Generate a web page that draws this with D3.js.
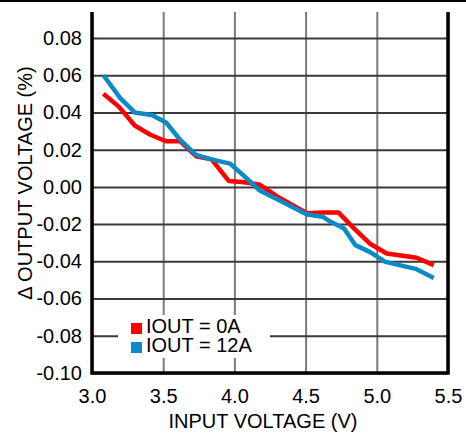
<!DOCTYPE html>
<html>
<head>
<meta charset="utf-8">
<script src="https://cdn.jsdelivr.net/npm/d3@7"></script>
<style>
  html, body { margin: 0; padding: 0; background: #fff; }
  text { font-family: "Liberation Sans", Arial, sans-serif; fill: #000; }
</style>
</head>
<body>
<div id="chart"></div>
<script>
var W = 466, H = 434;

// tick labels
var xTicks = [3.0, 3.5, 4.0, 4.5, 5.0, 5.5];
var yTicks = [-0.10, -0.08, -0.06, -0.04, -0.02, 0.00, 0.02, 0.04, 0.06, 0.08];

// series: input voltage (V) / delta output voltage (%)
var vin0 = [3.08, 3.19, 3.30, 3.41, 3.52, 3.62, 3.73, 3.84, 3.96, 4.07, 4.18, 4.30, 4.51, 4.62, 4.73, 4.84, 4.95, 5.07, 5.28, 5.40];
var dv0  = [0.050, 0.043, 0.033, 0.028, 0.0245, 0.0245, 0.0165, 0.0148, 0.0032, 0.0025, 0.0011, -0.0051, -0.0142, -0.0137, -0.0137, -0.0223, -0.0304, -0.0358, -0.0381, -0.0420];
var vin12 = [3.08, 3.20, 3.30, 3.42, 3.52, 3.62, 3.73, 3.84, 3.97, 4.07, 4.18, 4.30, 4.51, 4.62, 4.67, 4.77, 4.85, 4.95, 5.06, 5.28, 5.40];
var dv12  = [0.060, 0.0476, 0.0400, 0.0386, 0.0346, 0.0252, 0.0172, 0.0148, 0.0125, 0.0057, -0.0021, -0.0066, -0.0148, -0.0160, -0.0185, -0.0223, -0.0313, -0.0349, -0.0403, -0.0442, -0.0489];

var seriesNames = ["IOUT = 0A", "IOUT = 12A"];
var seriesColors = ["#ff0000", "#0a8ac6"];

// plot edges (note: "top" is reserved on window, so use plotTop)
var plotLeft = 92, plotRight = 448, plotTop = 12, plotBottom = 373;

var x = d3.scaleLinear().domain([3.0, 5.5]).range([plotLeft, plotRight]);
var y = d3.scaleLinear().domain([-0.10, 0.08]).range([plotBottom, 38]);

var svg = d3.select("#chart").append("svg").attr("width", W).attr("height", H);
svg.append("rect").attr("width", W).attr("height", H).attr("fill", "#fff");

// black rule along the top edge
svg.append("rect").attr("x", 0).attr("y", 0).attr("width", W).attr("height", 2).attr("fill", "#000");

// vertical grid
var xg = svg.append("g").attr("transform", "translate(0," + plotBottom + ")")
  .call(d3.axisBottom(x).tickValues(xTicks).tickSize(-(plotBottom - plotTop)).tickFormat(""));
xg.select(".domain").remove();
xg.selectAll("line").attr("stroke", "#7a7a7a").attr("stroke-width", 2);

// horizontal grid
var yg = svg.append("g").attr("transform", "translate(" + plotLeft + ",0)")
  .call(d3.axisLeft(y).tickValues(yTicks).tickSize(-(plotRight - plotLeft)).tickFormat(""));
yg.select(".domain").remove();
yg.selectAll("line").attr("stroke", "#3a3a3a").attr("stroke-width", 2);

// tick labels
var xl = svg.append("g").attr("transform", "translate(0," + plotBottom + ")")
  .call(d3.axisBottom(x).tickValues(xTicks).tickSize(0).tickPadding(16).tickFormat(function(d){ return d.toFixed(1); }));
xl.select(".domain").remove();
xl.selectAll("text").attr("font-size", 20).attr("font-family", "Liberation Sans, Arial, sans-serif");

var yl = svg.append("g").attr("transform", "translate(" + plotLeft + ",0)")
  .call(d3.axisLeft(y).tickValues(yTicks).tickSize(0).tickPadding(10).tickFormat(function(d){ return d.toFixed(2); }));
yl.select(".domain").remove();
yl.selectAll("text").attr("font-size", 20).attr("font-family", "Liberation Sans, Arial, sans-serif");

// frame: left, right, bottom
svg.append("path")
  .attr("d", "M" + plotLeft + "," + plotTop + "V" + plotBottom + "H" + plotRight + "V" + plotTop)
  .attr("fill", "none").attr("stroke", "#000").attr("stroke-width", 3.5);

// lines
var line = d3.line().x(function(d){ return x(d[0]); }).y(function(d){ return y(d[1]); });
var data0 = d3.zip(vin0, dv0);
var data12 = d3.zip(vin12, dv12);

svg.append("path").datum(data0).attr("d", line)
  .attr("fill", "none").attr("stroke", seriesColors[0]).attr("stroke-width", 4.5).attr("stroke-linejoin", "round");
svg.append("path").datum(data12).attr("d", line)
  .attr("fill", "none").attr("stroke", seriesColors[1]).attr("stroke-width", 4.5).attr("stroke-linejoin", "round");

// legend
svg.append("rect").attr("x", 118).attr("y", 315).attr("width", 152).attr("height", 43).attr("fill", "#fff");
var lg = svg.append("g");
seriesNames.forEach(function(name, i){
  lg.append("rect").attr("x", 131).attr("y", 323 + i * 19).attr("width", 11).attr("height", 11).attr("fill", seriesColors[i]);
  lg.append("text").attr("x", 146).attr("y", 333 + i * 19).attr("font-size", 20).text(name);
});

// axis titles
svg.append("text").attr("x", (plotLeft + plotRight) / 2 - 7).attr("y", 428)
  .attr("text-anchor", "middle").attr("font-size", 20).text("INPUT VOLTAGE (V)");
svg.append("text").attr("transform", "translate(32,183) rotate(-90)")
  .attr("text-anchor", "middle").attr("font-size", 20).text("Δ OUTPUT VOLTAGE (%)");
</script>
</body>
</html>
